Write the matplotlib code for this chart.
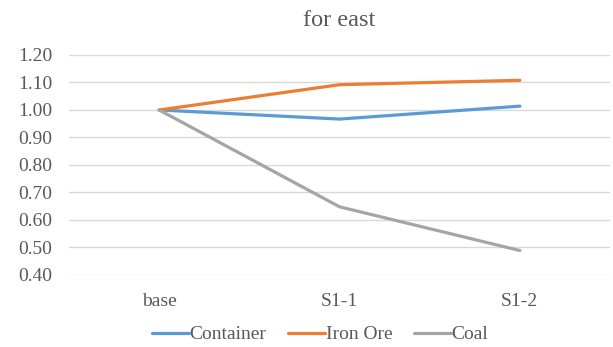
import matplotlib
matplotlib.use("Agg")
import matplotlib.pyplot as plt

categories = ["base", "S1-1", "S1-2"]
container = [1.00, 0.967, 1.014]
iron_ore = [1.00, 1.092, 1.108]
coal = [1.00, 0.648, 0.489]
yticks = [0.40, 0.50, 0.60, 0.70, 0.80, 0.90, 1.00, 1.10, 1.20]

plt.rcParams["font.family"] = ["Liberation Serif", "DejaVu Serif"]
text_color = "#595959"

fig = plt.figure(figsize=(6.13, 3.47), dpi=100)
ax = fig.add_axes([0.1126, 0.2075, 0.8825, 0.634])

x = list(range(len(categories)))
ax.plot(x, container, color="#5b9bd5", lw=2.3, label="Container", solid_capstyle="round")
ax.plot(x, iron_ore, color="#ed7d31", lw=2.3, label="Iron Ore", solid_capstyle="round")
ax.plot(x, coal, color="#a5a5a5", lw=2.3, label="Coal", solid_capstyle="round")

ax.set_xlim(-0.5, len(categories) - 0.5)
ax.set_ylim(0.40, 1.20)
ax.set_yticks(yticks)
ax.set_yticklabels([f"{v:.2f}" for v in yticks])
ax.set_xticks(x)
ax.set_xticklabels(categories)
ax.tick_params(axis="both", length=0, labelsize=14, colors=text_color)
ax.tick_params(axis="y", pad=12)
ax.tick_params(axis="x", pad=13)
ax.grid(axis="y", color="#d9d9d9", lw=1)
ax.set_axisbelow(True)
for s in ax.spines.values():
    s.set_visible(False)

ax.set_title("for east", fontsize=17.5, color=text_color, pad=21)

fig.legend(loc="lower center", bbox_to_anchor=(0.522, -0.04), ncol=3, frameon=False,
           fontsize=14, labelcolor=text_color, handlelength=1.9, handletextpad=0.05,
           columnspacing=1.1)

fig.savefig("out.png", dpi=100)
